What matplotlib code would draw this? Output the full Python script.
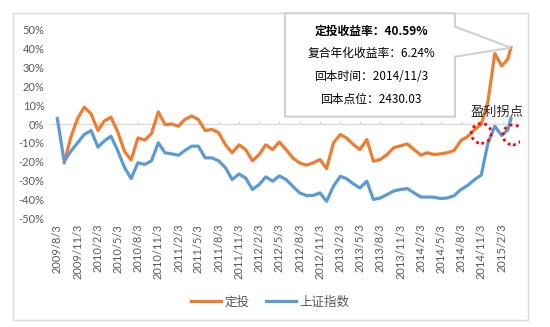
import numpy as np
import pandas as pd
import matplotlib
matplotlib.use("Agg")
import matplotlib.pyplot as plt
import matplotlib.dates as mdates
from matplotlib.patches import Ellipse, Polygon, Rectangle
from matplotlib.lines import Line2D
from matplotlib.ticker import FuncFormatter, MultipleLocator

# ---------------------------------------------------------------- data
# observation dates: the 3rd of every month, plus the latest close
obs_dates = list(
    (pd.date_range("2009-08-01", "2015-03-01", freq="MS") + pd.Timedelta(days=2)).to_pydatetime()
) + [pd.Timestamp("2015-03-17").to_pydatetime()]

# cumulative return of the monthly investment plan (%)
dingtou = [
    np.nan, -20.6, -7.0, 3.0, 9.0, 5.5, -3.4, 1.6, 3.7, -4.0,
    -14.5, -19.0, -7.3, -8.5, -5.0, 6.5, -0.2, 0.0, -1.1, 2.5,
    4.3, 2.5, -3.4, -2.8, -4.5, -11.0, -15.2, -11.0, -13.5, -19.5,
    -16.0, -11.0, -13.5, -9.5, -13.5, -17.9, -20.6, -21.8, -20.6, -18.8,
    -23.6, -10.0, -5.5, -7.3, -10.8, -13.5, -8.2, -19.7, -18.8, -16.1,
    -12.5, -11.5, -10.5, -13.5, -16.5, -15.2, -16.1, -15.8, -15.2, -14.0,
    -8.7, -6.5, -3.0, 0.0, 12.0, 37.5, 30.9, 34.5,
    40.59,
]

# Shanghai Composite change over the same period (%)
shanghai = [
    3.0, -19.7, -14.4, -9.9, -5.5, -3.4, -12.2, -9.0, -6.4, -14.0,
    -23.0, -28.9, -20.5, -21.4, -19.5, -9.9, -15.2, -15.8, -16.5, -14.0,
    -11.7, -11.7, -17.9, -17.9, -19.5, -23.2, -29.4, -26.5, -28.6, -34.7,
    -32.0, -28.0, -30.3, -27.5, -29.4, -33.0, -36.5, -37.9, -37.9, -36.5,
    -41.0, -33.0, -27.7, -28.9, -31.7, -33.9, -30.3, -40.0, -39.2, -37.4,
    -35.5, -34.7, -34.2, -36.5, -38.7, -38.7, -38.8, -39.5, -39.2, -38.0,
    -34.7, -32.5, -29.5, -27.0, -10.0, -1.1, -6.0, -3.0,
    3.0,
]

series_names = ["定投", "上证指数"]

# quarterly category labels
tick_dates = list(
    (pd.date_range("2009-08-01", "2015-02-01", freq="3MS") + pd.Timedelta(days=2)).to_pydatetime()
)
tick_labels = [f"{d.year}/{d.month}/{d.day}" for d in tick_dates]

callout_lines = ["定投收益率：40.59%", "复合年化收益率：6.24%", "回本时间：2014/11/3", "回本点位：2430.03"]
turn_label = "盈利拐点"
turn_points = [(pd.Timestamp("2014-11-03"), -4.9), (pd.Timestamp("2015-03-26"), -5.7)]

# ---------------------------------------------------------------- style
ORANGE = "#ED7D31"
BLUE = "#5B9BD5"
GREY_TXT = "#595959"
GREY_LINE = "#D9D9D9"
CJK = ["Noto Sans CJK SC", "DejaVu Sans"]
LATIN = ["Lato", "DejaVu Sans"]

W, H = 550, 327
fig = plt.figure(figsize=(W / 100, H / 100), dpi=100)
fig.patch.set_facecolor("white")


def fpos(x, y):
    """pixel position (from top-left) -> figure fraction"""
    return (x / W, 1 - y / H)


# outer chart border
fig.add_artist(Rectangle(fpos(12.7, 320), 515 / W, 307.3 / H, transform=fig.transFigure,
                         facecolor="none", edgecolor=GREY_LINE, lw=1.0, zorder=0))

ax = fig.add_axes([50 / W, 1 - 218.3 / H, 470 / W, (218.3 - 30) / H])
ax.set_facecolor("none")

ax.plot(obs_dates, dingtou, color=ORANGE, lw=2.3, solid_joinstyle="round", zorder=3)
ax.plot(obs_dates, shanghai, color=BLUE, lw=2.3, solid_joinstyle="round", zorder=4)

ax.set_ylim(-50, 50)
ax.set_xlim(pd.Timestamp("2009-07-01").to_pydatetime(), pd.Timestamp("2015-04-27").to_pydatetime())

# horizontal axis line at 0% with small tick marks
ax.axhline(0, color=GREY_LINE, lw=0.9, zorder=1)
ax.vlines(tick_dates, 0, 1.5, color=GREY_LINE, lw=0.9, zorder=1)

ax.yaxis.set_major_locator(MultipleLocator(10))
ax.yaxis.set_major_formatter(FuncFormatter(lambda v, p: f"{int(round(v))}%"))
ax.set_xticks(tick_dates)
ax.set_xticklabels(tick_labels, rotation=90)
ax.tick_params(axis="both", length=0, labelcolor=GREY_TXT, labelsize=8)
ax.tick_params(axis="y", pad=4)
ax.tick_params(axis="x", pad=4)
for lab in ax.get_xticklabels() + ax.get_yticklabels():
    lab.set_family(LATIN)
for s in ax.spines.values():
    s.set_visible(False)

# profit turning-point markers
for d, v in turn_points:
    ax.add_patch(Ellipse((mdates.date2num(d), v), width=90.5, height=10.6,
                         fill=False, edgecolor="#FF0000", lw=2.0,
                         linestyle=(0, (1, 1.3)), zorder=5))
ax.text(pd.Timestamp("2015-01-15").to_pydatetime(), 6.1, turn_label, ha="center", va="center",
        fontsize=9.5, color="#262626", family=CJK, zorder=6)

# callout box pointing at the final value of the plan
tip_disp = ax.transData.transform((mdates.date2num(obs_dates[-1]), dingtou[-1]))
tip = fig.transFigure.inverted().transform(tip_disp)
box = [fpos(285, 13.3), fpos(455, 13.3), fpos(455, 26.7), tuple(tip),
       fpos(455, 56.7), fpos(455, 116.7), fpos(285, 116.7)]
fig.add_artist(Polygon(box, closed=True, transform=fig.transFigure, facecolor="white",
                       edgecolor="#D0D0D0", lw=1.5, zorder=7))
for i, (line, py) in enumerate(zip(callout_lines, [31.7, 53.3, 76.7, 99.0])):
    fig.text(371 / W, 1 - py / H, line, ha="center", va="center", fontsize=8.5,
             color="black", family=CJK, fontweight="bold" if i == 0 else "normal", zorder=8)

# legend
handles = [Line2D([], [], color=ORANGE, lw=2.3), Line2D([], [], color=BLUE, lw=2.3)]
leg = fig.legend(handles, series_names, loc="center", bbox_to_anchor=(270 / W, 1 - 302 / H),
                 ncol=2, frameon=False, handlelength=2.4, handletextpad=0.3, columnspacing=1.3,
                 prop={"family": CJK, "size": 9})
for t in leg.get_texts():
    t.set_color(GREY_TXT)

fig.savefig("out.png", dpi=100, facecolor="white")
